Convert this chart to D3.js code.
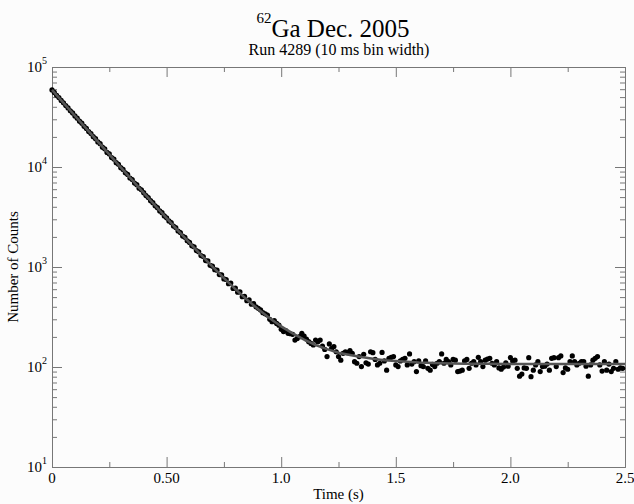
<!DOCTYPE html>
<html>
<head>
<meta charset="utf-8">
<script src="https://cdn.jsdelivr.net/npm/d3@7"></script>
<style>
  body { margin: 0; background: #fcfcfc; }
  svg { display: block; }
</style>
</head>
<body>
<div id="chart"></div>
<script>

// Chart size and plot box
const width = 634;
const height = 504;
const margin = {left: 52, right: 9, top: 67, bottom: 37};
const serif = "'Liberation Serif', 'Times New Roman', Tinos, 'DejaVu Serif', serif";

// 10 ms bins, counts (bin 0 at t = 0)
const binWidth = 0.01;
const counts = [
  59000, 55700, 52200, 49500, 46300, 43900, 41100, 39000, 36500, 34700,
  32400, 30800, 28700, 27400, 25500, 24300, 22600, 21600, 20100, 19200,
  17800, 17100, 15800, 15200, 14000, 13500, 12450, 12000, 11050, 10650,
  9850, 9450, 8750, 8420, 7760, 7480, 6900, 6650, 6130, 5920,
  5540, 5180, 4950, 4600, 4400, 4090, 3920, 3640, 3490, 3240,
  3100, 2890, 2780, 2570, 2480, 2290, 2210, 2040, 1980, 1830,
  1760, 1630, 1590, 1460, 1420, 1300, 1270, 1160, 1150, 1040,
  1020, 940, 930, 840, 835, 760, 750, 680, 690, 610,
  615, 560, 565, 505, 510, 460, 470, 425,
  430, 400, 386, 372, 349, 340, 331, 300, 284, 291,
  273, 262, 238, 226, 231, 217, 215, 212, 186, 193,
  201, 217, 204, 190, 179, 172, 166, 186, 179, 186,
  162, 150, 127, 170, 154, 160, 142, 127, 117, 137,
  142, 139,
  146, 137, 113, 109, 127, 101, 134, 110, 107, 142,
  139, 119, 105, 109, 140, 115, 93, 122, 125, 127,
  105, 101, 115, 119, 122, 105, 135, 107, 113, 90,
  115, 103, 101, 115, 97, 93, 106, 101, 109, 113,
  135, 109, 119, 113, 105, 119, 117, 90, 91, 93,
  115, 119, 97, 109, 113, 105, 125,
  113, 101, 117, 120, 122, 109, 105, 113, 98, 95,
  100, 110, 102, 124, 115, 117, 97, 81, 85, 98,
  97, 124, 80, 93, 105, 113, 90, 101, 102, 107,
  93, 122, 124, 101, 124, 129, 88, 98, 95, 113,
  129, 113, 105, 109, 113, 113, 102, 81, 105, 117,
  122, 127, 105, 91, 113, 93, 107, 90, 97, 113,
  95, 98, 97
];

// Fit curve
const fitTimes = [0, 0.05, 0.1, 0.15, 0.2, 0.25, 0.3, 0.35, 0.4, 0.45, 0.5,
  0.55, 0.6, 0.65, 0.7, 0.75, 0.8, 0.85, 0.9, 0.95, 1.0, 1.05, 1.1, 1.15,
  1.2, 1.25, 1.3, 1.35, 1.4, 1.45, 1.5, 1.6, 1.7, 1.8, 1.9, 2.0, 2.1, 2.2,
  2.3, 2.4, 2.5];
const fitCounts = [59000, 43800, 32530, 24160, 17955, 13350, 9930, 7396, 5514,
  4118, 3083, 2314, 1744, 1321, 1007, 774, 602, 473, 378, 308, 255, 217, 188,
  166, 151, 139, 132, 126, 121, 117, 115, 111, 109, 108, 108, 107, 107, 107,
  107, 107, 107];

// Axis ticks
const xTicks = [0, 0.5, 1.0, 1.5, 2.0, 2.5];
const xTickLabels = ["0", "0.50", "1.0", "1.5", "2.0", "2.5"];
const xMinorTicks = [0.25, 0.75, 1.25, 1.75, 2.25];
const yTickExps = [1, 2, 3, 4, 5];

const svg = d3.select("#chart")
  .append("svg")
  .attr("width", width)
  .attr("height", height)
  .attr("font-family", serif);

const x = d3.scaleLinear()
  .domain([0, 2.5])
  .range([margin.left, width - margin.right]);

const y = d3.scaleLog()
  .domain([10, 1e5])
  .range([height - margin.bottom, margin.top]);

// minor log ticks 2..9 in each decade
const yMinorTicks = [];
yTickExps.slice(0, -1).forEach(e => {
  for (let m = 2; m < 10; m++) yMinorTicks.push(m * Math.pow(10, e));
});

const axisColor = "#777";

function drawAxis(axis, tx, ty) {
  const g = svg.append("g")
    .attr("transform", `translate(${tx},${ty})`)
    .call(axis.tickSizeOuter(0).tickFormat(""));
  g.selectAll("path, line").attr("stroke", axisColor);
  return g;
}

// major + minor ticks on all four sides, pointing inwards
drawAxis(d3.axisBottom(x).tickValues(xTicks).tickSizeInner(-10), 0, height - margin.bottom);
drawAxis(d3.axisBottom(x).tickValues(xMinorTicks).tickSizeInner(-5), 0, height - margin.bottom);
drawAxis(d3.axisTop(x).tickValues(xTicks).tickSizeInner(-10), 0, margin.top);
drawAxis(d3.axisTop(x).tickValues(xMinorTicks).tickSizeInner(-5), 0, margin.top);

const yMajor = yTickExps.map(e => Math.pow(10, e));
drawAxis(d3.axisLeft(y).tickValues(yMajor).tickSizeInner(-10), margin.left, 0);
drawAxis(d3.axisLeft(y).tickValues(yMinorTicks).tickSizeInner(-5), margin.left, 0);
drawAxis(d3.axisRight(y).tickValues(yMajor).tickSizeInner(-10), width - margin.right, 0);
drawAxis(d3.axisRight(y).tickValues(yMinorTicks).tickSizeInner(-5), width - margin.right, 0);

// tick labels
svg.append("g")
  .selectAll("text")
  .data(xTicks)
  .join("text")
    .attr("x", d => x(d))
    .attr("y", height - margin.bottom + 16)
    .attr("text-anchor", "middle")
    .attr("font-size", 15)
    .text((d, i) => xTickLabels[i]);

const yLabels = svg.append("g")
  .selectAll("text")
  .data(yTickExps)
  .join("text")
    .attr("x", 47)
    .attr("y", d => y(Math.pow(10, d)) + 5)
    .attr("text-anchor", "end")
    .attr("font-size", 15);
yLabels.append("tspan").text("10");
yLabels.append("tspan")
  .attr("dy", -8)
  .attr("font-size", 10)
  .text(d => d);

// titles
const title = svg.append("text")
  .attr("x", 333)
  .attr("y", 37)
  .attr("text-anchor", "middle")
  .attr("font-size", 25);
title.append("tspan").attr("font-size", 15).attr("dy", -14).text("62");
title.append("tspan").attr("dy", 14).text("Ga Dec. 2005");

svg.append("text")
  .attr("x", 339)
  .attr("y", 55)
  .attr("text-anchor", "middle")
  .attr("font-size", 16)
  .text("Run 4289 (10 ms bin width)");

svg.append("text")
  .attr("x", (margin.left + width - margin.right) / 2)
  .attr("y", 499)
  .attr("text-anchor", "middle")
  .attr("font-size", 15)
  .text("Time (s)");

svg.append("text")
  .attr("transform", `translate(18,${(margin.top + height - margin.bottom) / 2}) rotate(-90)`)
  .attr("text-anchor", "middle")
  .attr("font-size", 15)
  .text("Number of Counts");

// data points
svg.append("g")
  .selectAll("circle")
  .data(counts)
  .join("circle")
    .attr("cx", (d, i) => x(i * binWidth))
    .attr("cy", d => y(d))
    .attr("r", 2.6)
    .attr("fill", "#000");

// fit line on top
const fit = fitTimes.map((t, i) => ({t: t, c: fitCounts[i]}));
svg.append("path")
  .datum(fit)
  .attr("fill", "none")
  .attr("stroke", "#555")
  .attr("stroke-width", 2.5)
  .attr("d", d3.line().x(d => x(d.t)).y(d => y(d.c)));

</script>
</body>
</html>
